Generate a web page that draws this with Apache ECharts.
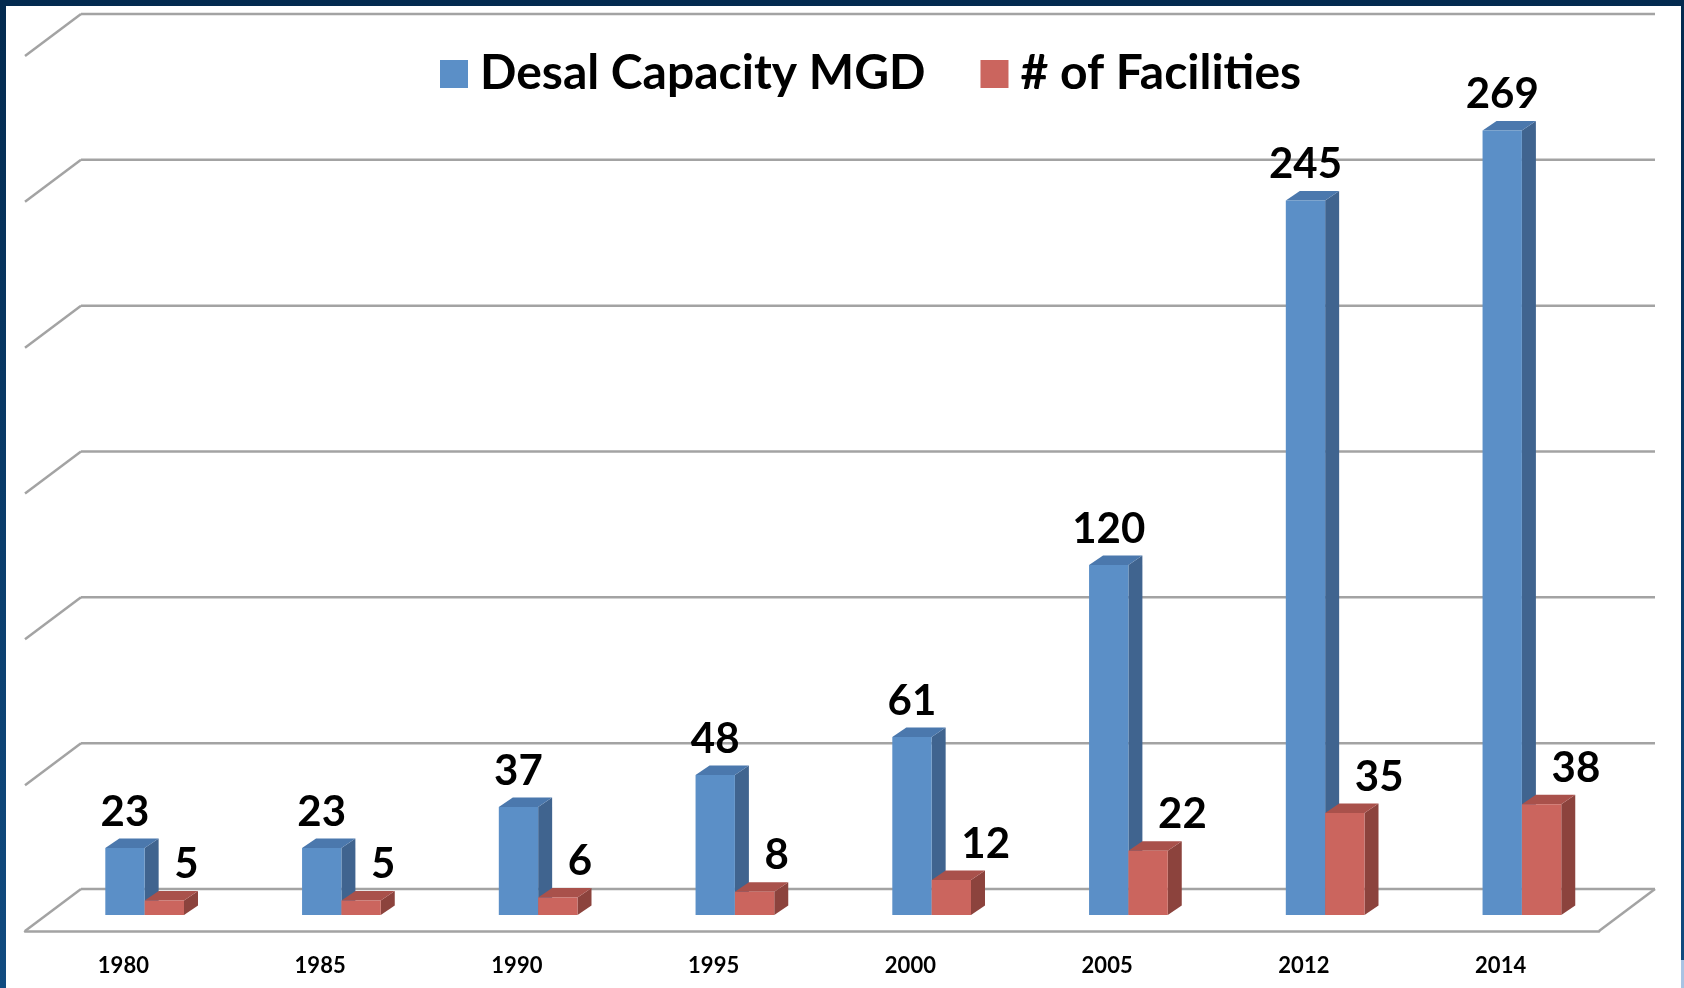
<!DOCTYPE html>
<html>
<head>
<meta charset="utf-8">
<title>Desal Capacity</title>
<script src="https://cdn.jsdelivr.net/npm/echarts@6/dist/echarts.min.js"></script>
<style>
  html, body { margin: 0; padding: 0; }
  body { width: 1684px; height: 988px; position: relative; overflow: hidden;
         background: linear-gradient(180deg, #032a4f 0%, #0a3d6c 55%, #114b80 100%); }
  #panel { position: absolute; left: 6px; top: 6px; width: 1675px; height: 982px; background: #fff; }
  #corner { position: absolute; left: 1681px; top: 960px; width: 3px; height: 28px; background: #a8c3e3; }
  #chart { position: absolute; left: 0; top: 0; width: 1684px; height: 988px; }
</style>
</head>
<body>
<div id="panel"></div>
<div id="corner"></div>
<div id="chart"></div>
<script>
/* desal capacity vs facilities, 3d-ish bars */
var years = ['1980', '1985', '1990', '1995', '2000', '2005', '2012', '2014'];
var capacity = [23, 23, 37, 48, 61, 120, 245, 269];
var facilities = [5, 5, 6, 8, 12, 22, 35, 38];
var yTicks = [0, 50, 100, 150, 200, 250, 300];

(function(){
	var myChart = echarts.init(document.getElementById('chart'));

	// depth of the floor (front line -> back wall)
	var DX = 56, DY = -42;
	// bars stand part way back
	var BF = 0.38;
	// depth of one bar
	var bx = 14, by = -9.5;
	var gridColor = '#a3a3a3';
	var labelFont = 'bold 42px Lato';

	function wallItem(params, api) {
		var v = api.value(1);
		var band = api.size([1, 0])[0];
		var p = api.coord([0, v]);
		var left = p[0] - band / 2;
		var right = left + band * years.length;
		var y = p[1];
		var kids = [
			{ type: 'line', shape: { x1: left, y1: y, x2: left + DX, y2: y + DY },
			  style: { stroke: gridColor, lineWidth: 2.5 } },
			{ type: 'line', shape: { x1: left + DX, y1: y + DY, x2: right + DX, y2: y + DY },
			  style: { stroke: gridColor, lineWidth: 2.5 } }
		];
		if (v === 0) {
			kids.push({ type: 'line', shape: { x1: right, y1: y, x2: right + DX, y2: y + DY },
			  style: { stroke: gridColor, lineWidth: 2.5 } });
		}
		return { type: 'group', children: kids };
	}

	function barItem(first, cFront, cSide, cTop) {
		return function(params, api) {
			var i = api.value(0), v = api.value(1);
			var band = api.size([1, 0])[0];
			var top = api.coord([i, v]);
			var base = api.coord([i, 0]);
			var w = band * 0.2;
			var x0 = (first ? top[0] - w : top[0]) + DX * BF;
			var x1 = x0 + w;
			var yT = top[1] + DY * BF;
			var yB = base[1] + DY * BF;
			var label = first
				? { type: 'text', style: { x: x0 + w / 2, y: yT - 36, text: String(v), fill: '#000',
				    font: labelFont, align: 'center', verticalAlign: 'middle' } }
				: { type: 'text', style: { x: x0 + w / 2 + 10, y: yT - 36, text: String(v), fill: '#000',
				    font: labelFont, align: 'left', verticalAlign: 'middle' } };
			return {
				type: 'group',
				children: [
					{ type: 'polygon', shape: { points: [[x1, yT], [x1 + bx, yT + by], [x1 + bx, yB + by], [x1, yB]] },
					  style: { fill: cSide } },
					{ type: 'polygon', shape: { points: [[x0, yT], [x0 + bx, yT + by], [x1 + bx, yT + by], [x1, yT]] },
					  style: { fill: cTop } },
					{ type: 'rect', shape: { x: x0, y: yT, width: w, height: yB - yT },
					  style: { fill: cFront } },
					label
				]
			};
		};
	}

	var option = {
		animation: false,
		legend: {
			data: ['Desal Capacity MGD', '# of Facilities'],
			left: 440,
			top: 46,
			padding: 0,
			icon: 'rect',
			itemWidth: 28,
			itemHeight: 28,
			itemGap: 55,
			textStyle: {
				fontFamily: 'Lato',
				fontWeight: 'bold',
				fontSize: 48,
				lineHeight: 56,
				color: '#000',
				padding: [0, 0, 0, 7]
			}
		},
		grid: {
			left: 25,
			top: 56,
			width: 1574,
			height: 875
		},
		xAxis: {
			type: 'category',
			data: years,
			axisLine: { lineStyle: { color: gridColor, width: 2.5 } },
			axisTick: { length: 7, lineStyle: { color: gridColor, width: 2 } },
			axisLabel: {
				margin: 24,
				color: '#000',
				fontFamily: 'Lato',
				fontWeight: 'bold',
				fontSize: 22
			}
		},
		yAxis: {
			type: 'value',
			min: 0,
			max: 300,
			interval: 50,
			show: false,
			splitLine: { show: false }
		},
		series: [
			{
				type: 'custom',
				renderItem: wallItem,
				silent: true,
				z: 1,
				encode: { x: 0, y: 1 },
				data: yTicks.map(function(v){ return [0, v]; })
			},
			{
				name: 'Desal Capacity MGD',
				type: 'custom',
				z: 3,
				itemStyle: { color: '#5b8fc7' },
				renderItem: barItem(true, '#5b8fc7', '#40648f', '#4b78ad'),
				encode: { x: 0, y: 1 },
				data: capacity.map(function(v, i){ return [i, v]; })
			},
			{
				name: '# of Facilities',
				type: 'custom',
				z: 4,
				itemStyle: { color: '#cb655e' },
				renderItem: barItem(false, '#cb655e', '#8c433d', '#a9514b'),
				encode: { x: 0, y: 1 },
				data: facilities.map(function(v, i){ return [i, v]; })
			}
		]
	};
	myChart.setOption(option);
})();
</script>
</body>
</html>
